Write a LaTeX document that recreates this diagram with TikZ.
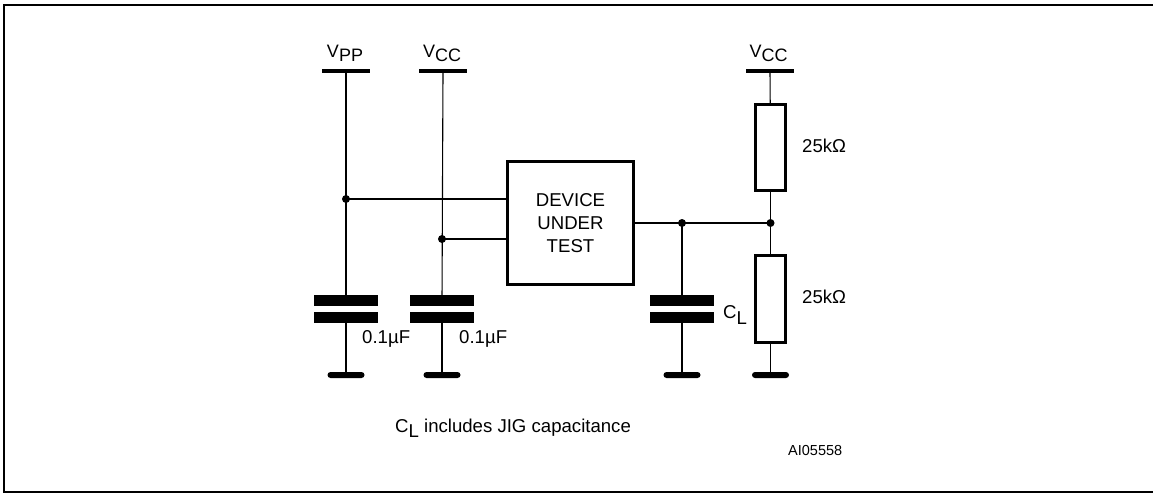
\documentclass[tikz,border=0pt]{standalone}
\usepackage{fontspec}
\setmainfont{Liberation Sans}
\begin{document}
\begin{tikzpicture}[x=1pt,y=-1pt,
  wire/.style={line width=1.1pt},
  rail/.style={fill=black, draw=none, minimum width=48pt, minimum height=4pt, inner sep=0pt},
  gnd/.style={fill=black, draw=none, minimum width=37pt, minimum height=6pt, inner sep=0pt, rounded corners=3pt},
  plate/.style={fill=black, draw=none, minimum width=64pt, minimum height=11pt, inner sep=0pt},
  res/.style={draw, line width=3pt, minimum width=30pt, inner sep=0pt},
  dut/.style={draw, line width=2.7pt, minimum width=126pt, minimum height=123pt, align=center, inner sep=0pt, font=\fontsize{18.6}{23}\selectfont},
  jdot/.style={circle, fill=black, inner sep=0pt, minimum size=8pt},
  lbl/.style={font=\fontsize{18.6}{22}\selectfont, inner sep=0pt},
  vlbl/.style={font=\fontsize{18}{20}\selectfont, inner sep=0pt, anchor=base}
]
\useasboundingbox (0,0) rectangle (1153,493);
% frame
\draw[line width=2pt] (1153,5) -- (4,5) -- (4,492) -- (1153,492);

% supply rails
\node[rail] (vpp) at (346,71) {};
\node[rail] (vcc1) at (443,71) {};
\node[rail] (vcc2) at (770,71) {};
\node[vlbl] (lvpp) at (345,57) {V\raisebox{-4pt}{PP}};
\node[vlbl] (lvcc1) at (442,57) {V\raisebox{-4pt}{CC}};
\node[vlbl] (lvcc2) at (768.5,57) {V\raisebox{-4pt}{CC}};

% device under test
\node[dut] (dut) at (570.5,223) {DEVICE\\UNDER\\TEST};

% capacitors
\node[plate] (c1a) at (346,300.5) {};
\node[plate] (c1b) at (346,317.5) {};
\node[plate] (c2a) at (442,300.5) {};
\node[plate] (c2b) at (442,317.5) {};
\node[plate] (c3a) at (682,300.5) {};
\node[plate] (c3b) at (682,317.5) {};

% resistors
\node[res, minimum height=86pt] (r1) at (770.5,147.5) {};
\node[res, minimum height=87pt] (r2) at (770.5,299) {};

% grounds
\node[gnd] (g1) at (346,375) {};
\node[gnd] (g2) at (442,375) {};
\node[gnd] (g3) at (682,375) {};
\node[gnd] (g4) at (770.5,375) {};

% junctions
\node[jdot] (j1) at (346,199) {};
\node[jdot] (j2) at (442,239) {};
\node[jdot] (j3) at (682,223) {};
\node[jdot] (j4) at (770.5,223) {};

% wires
\draw[wire] (vpp.center) -- (c1a);
\draw[wire] (c1b) -- (g1.center);
\draw[wire] (vcc1.center) -- (c2a);
\draw[wire] (c2b) -- (g2.center);
\draw[wire] (j1.center) -- (j1 -| dut.west);
\draw[wire] (j2.center) -- (j2 -| dut.west);
\draw[wire] (dut.east |- j4) -- (j4.center);
\draw[wire] (j3.center) -- (c3a);
\draw[wire] (c3b) -- (g3.center);
\draw[wire] (vcc2.center) -- (r1);
\draw[wire] (r1) -- (j4.center);
\draw[wire] (j4.center) -- (r2);
\draw[wire] (r2) -- (g4.center);

% labels
\node[lbl, anchor=base west] (lr1) at (802,152.5) {25kΩ};
\node[lbl, anchor=base west] (lr2) at (802,303.5) {25kΩ};
\node[lbl, anchor=base west] (lc1) at (362,343.5) {0.1µF};
\node[lbl, anchor=base west] (lc2) at (459,343.5) {0.1µF};
\node[lbl, anchor=base west] (lc3) at (723,318) {C\raisebox{-6pt}{L}};
\node[lbl, anchor=base west] (note) at (395,432) {C\raisebox{-5pt}{L} includes JIG capacitance};
\node[font=\fontsize{14.5}{17}\selectfont, inner sep=0pt, anchor=base west] (code) at (788,455) {AI05558};
\end{tikzpicture}
\end{document}
